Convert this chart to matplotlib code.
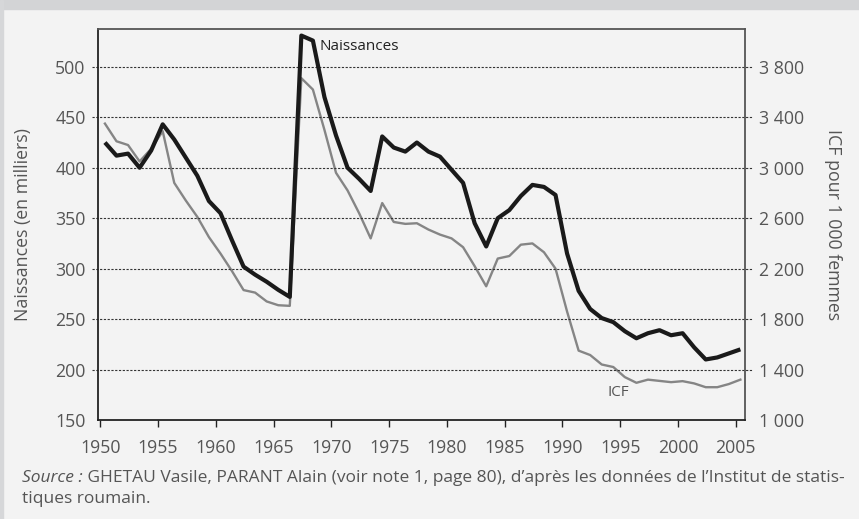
import numpy as np
import matplotlib
matplotlib.use("Agg")
import matplotlib.pyplot as plt
from matplotlib.patches import Rectangle

plt.rcParams['font.family'] = ['Open Sans', 'DejaVu Sans']

# data
years = np.arange(1950, 2006)
naissances = [425, 412, 414, 400, 417, 443, 428, 410, 392, 367,
              355, 328, 302, 294, 287, 279, 272, 531, 526, 470,
              432, 400, 389, 377, 431, 420, 416, 425, 416, 411,
              398, 385, 345, 322, 350, 358, 372, 383, 381, 373,
              315, 278, 260, 251, 247, 238, 231, 236, 239, 234,
              236, 222, 210, 212, 216, 220]
icf = [3350, 3210, 3180, 3050, 3150, 3290, 2880, 2740, 2610, 2450,
       2320, 2180, 2030, 2010, 1940, 1910, 1905, 3710, 3620, 3300,
       2960, 2820, 2640, 2440, 2720, 2570, 2555, 2560, 2510, 2470,
       2440, 2370, 2220, 2060, 2280, 2300, 2390, 2400, 2330, 2200,
       1860, 1550, 1515, 1440, 1420, 1340, 1295, 1320, 1310, 1300,
       1308, 1290, 1260, 1260, 1285, 1320]

x_ticks = list(range(1950, 2006, 5))
left_ticks = [150, 200, 250, 300, 350, 400, 450, 500]
right_ticks = [1000, 1400, 1800, 2200, 2600, 3000, 3400, 3800]

bg = '#f3f3f3'
txt = '#555555'
fs = 12.8

fig = plt.figure(figsize=(8.59, 5.19), dpi=100, facecolor=bg)
fig.patches.append(Rectangle((0, 1 - 9 / 519), 1, 9 / 519, transform=fig.transFigure,
                             color='#d3d4d6', zorder=0))
fig.patches.append(Rectangle((0, 0), 3 / 859, 1, transform=fig.transFigure,
                             color='#d6d7d9', zorder=0))

ax = fig.add_axes([98 / 859, 1 - 420 / 519, 647 / 859, 391 / 519])
ax2 = ax.twinx()
ax.set_zorder(ax2.get_zorder() + 1)
ax.patch.set_visible(False)
ax2.set_facecolor(bg)

# points sit mid-year in the source
xs = years + 0.4
ax2.plot(xs, icf, color='#858585', lw=1.7, solid_joinstyle='round', zorder=3)
ax.plot(xs, naissances, color='#1a1a1a', lw=3.0, solid_joinstyle='round',
        solid_capstyle='butt', zorder=4)

ax.set_xlim(1949.8, 2005.8)
ax.set_ylim(150, 537.5)
ax2.set_ylim(1000, 1000 + (537.5 - 150) * 8)

for v in left_ticks[1:]:
    ax.axhline(v, xmin=-0.01, xmax=1.013, color='#333333', lw=0.8,
               ls=(0, (2, 1.4)), clip_on=False, zorder=1)

ax.set_xticks(x_ticks)
ax.set_xticklabels([str(y) for y in x_ticks])
ax.set_yticks(left_ticks)
ax2.set_yticks(right_ticks)
ax2.set_yticklabels([f"{v:,}".replace(",", " ") for v in right_ticks])

ax.tick_params(axis='x', direction='out', length=5, width=1, color='#222222',
               labelsize=fs, labelcolor=txt, pad=9)
ax.tick_params(axis='y', length=0, labelsize=fs, labelcolor=txt, pad=9)
ax2.tick_params(axis='y', length=0, labelsize=fs, labelcolor=txt, pad=10)

for s in ['left', 'bottom']:
    ax.spines[s].set_color('#222222')
    ax.spines[s].set_linewidth(1.3)
for s in ['top', 'right']:
    ax.spines[s].set_color('#555555')
    ax.spines[s].set_linewidth(1.3)
for s in ax2.spines.values():
    s.set_visible(False)

ax.set_ylabel('Naissances (en milliers)', fontsize=fs, color=txt)
ax.yaxis.set_label_coords(-0.102, 0.5)
ax2.set_ylabel('ICF pour 1 000 femmes', fontsize=fs, color=txt, rotation=270,
               va='center')
ax2.yaxis.set_label_coords(1.136, 0.5)

ax.text(1969.0, 520, 'Naissances', fontsize=11, color='#222222', va='center',
        ha='left', zorder=5)
ax.text(1993.9, 177.5, 'ICF', fontsize=11, color=txt, va='center', ha='left')

t1 = fig.text(22 / 859, 1 - 478 / 519, 'Source :', fontsize=12.5, color=txt,
              style='italic', va='center')
plt.annotate(' GHETAU Vasile, PARANT Alain (voir note 1, page 80), d’après les données de l’Institut de statis-',
             xy=(1, 0), xycoords=t1, va='bottom', ha='left',
             fontsize=12.5, color=txt)
fig.text(22 / 859, 1 - 499 / 519, 'tiques roumain.', fontsize=12.5, color=txt,
         va='center')

fig.savefig('out.png', dpi=100, facecolor=bg)
